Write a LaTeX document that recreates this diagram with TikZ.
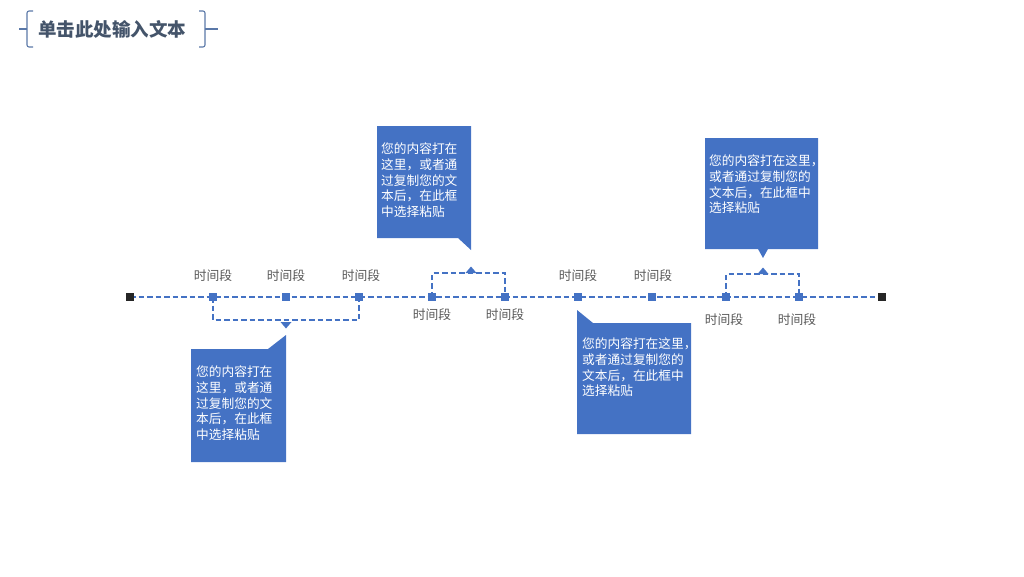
\documentclass[tikz,border=0pt]{standalone}
\usepackage{fontspec}
\setmainfont{Noto Sans CJK SC}
\definecolor{boxblue}{HTML}{4472C4}
\definecolor{labelgray}{HTML}{595959}
\definecolor{titlecol}{HTML}{44546A}
\definecolor{bracecol}{HTML}{5A78A8}
\definecolor{endcol}{HTML}{262626}
\tikzset{
  dline/.style={draw=boxblue, line width=1.6pt, dash pattern=on 5.5pt off 3pt},
  marker/.style={fill=boxblue, minimum size=8pt, inner sep=0pt, outer sep=0pt},
  endmark/.style={fill=endcol, minimum size=7.5pt, inner sep=0pt, outer sep=0pt},
  tlabel/.style={font=\fontsize{12.8}{14}\selectfont, text=labelgray, inner sep=0pt},
  boxtext/.style={font=\fontsize{12.7}{15.6}\selectfont, text=white, align=left, anchor=north west, inner sep=0pt},
  panel/.style={fill=boxblue},
  pointer/.style={fill=boxblue}
}
\begin{document}
\begin{tikzpicture}[x=1pt,y=-1pt]
\useasboundingbox (0,0) rectangle (1024,576);
% title
\node[font=\fontsize{18.5}{21}\selectfont\bfseries, text=titlecol, inner sep=0pt] (title) at (112,29) {单击此处输入文本};
\draw[bracecol, line width=1.1pt, rounded corners=2pt] (33,11) -- (27,11) -- (27,29) -- (27,47) -- (33,47);
\draw[bracecol, line width=1.1pt] (27,29) -- (19,29);
\draw[bracecol, line width=1.1pt, rounded corners=2pt] (199,11) -- (205,11) -- (205,29) -- (205,47) -- (199,47);
\draw[bracecol, line width=1.1pt] (205,29) -- (218,29);
% positions
\coordinate (pe1) at (130,297);
\coordinate (pe2) at (882,297);
\foreach \i/\x in {1/213,2/286,3/359,4/432,5/505,6/578,7/652,8/726,9/799}
  \coordinate (p\i) at (\x,297);
% timeline
\draw[dline] (pe1) -- (pe2);
% brackets
\draw[dline] (p1) -- (213,320) -- (359,320) -- (p3);
\draw[dline] (p4) -- (432,273) -- (505,273) -- (p5);
\draw[dline] (p8) -- (726,274) -- (799,274) -- (p9);
% markers
\node[endmark] (e1) at (pe1) {};
\node[endmark] (e2) at (pe2) {};
\foreach \i in {1,...,9} \node[marker] (m\i) at (p\i) {};
% bracket tips
\fill[pointer] (280.5,322) -- (291.5,322) -- (286,328.5) -- cycle;
\fill[pointer] (465.5,273) -- (476.5,273) -- (471,266.5) -- cycle;
\fill[pointer] (757.5,274) -- (768.5,274) -- (763,267.5) -- cycle;
% labels
\node[tlabel] (l1) at (213,276) {时间段};
\node[tlabel] (l2) at (286,276) {时间段};
\node[tlabel] (l3) at (361,276) {时间段};
\node[tlabel] (l4) at (432,315) {时间段};
\node[tlabel] (l5) at (505,315) {时间段};
\node[tlabel] (l6) at (578,276) {时间段};
\node[tlabel] (l7) at (653,276) {时间段};
\node[tlabel] (l8) at (724,320) {时间段};
\node[tlabel] (l9) at (797,320) {时间段};
% panels
\fill[panel] (191,349) -- (268,349) -- (286,335) -- (286,462) -- (191,462) -- cycle;
\fill[panel] (377,126) -- (471,126) -- (471,250) -- (458,238) -- (377,238) -- cycle;
\fill[panel] (577,310) -- (593,323) -- (691,323) -- (691,434) -- (577,434) -- cycle;
\fill[panel] (705,138) -- (818,138) -- (818,249) -- (768,249) -- (763,258) -- (758,249) -- (705,249) -- cycle;
% panel texts
\node[boxtext] (t1) at (196,366) {您的内容打在\\这里，或者通\\过复制您的文\\本后，在此框\\中选择粘贴};
\node[boxtext] (t2) at (381,143) {您的内容打在\\这里，或者通\\过复制您的文\\本后，在此框\\中选择粘贴};
\node[boxtext] (t3) at (582,338) {您的内容打在这里，\\或者通过复制您的\\文本后，在此框中\\选择粘贴};
\node[boxtext] (t4) at (709,155) {您的内容打在这里，\\或者通过复制您的\\文本后，在此框中\\选择粘贴};
\end{tikzpicture}
\end{document}
